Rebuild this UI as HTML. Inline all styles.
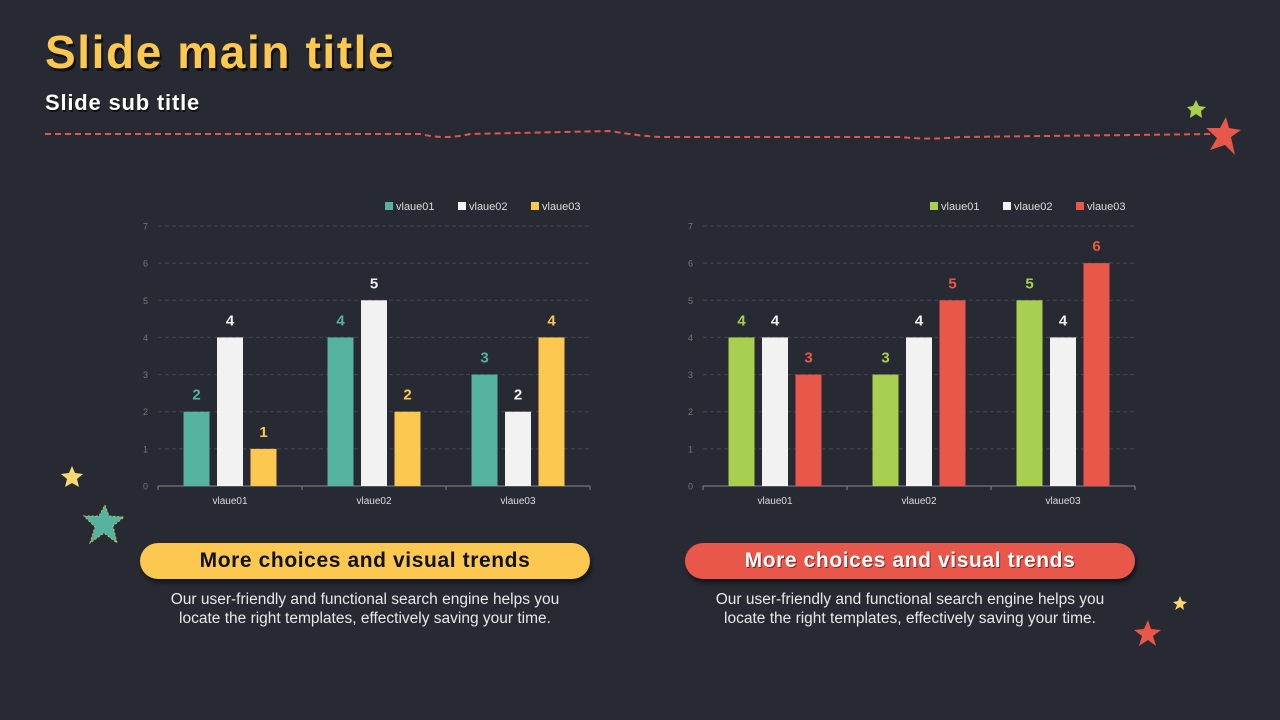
<!DOCTYPE html>
<html><head><meta charset="utf-8"><style>
body{margin:0;width:1280px;height:720px;background:#282a33;overflow:hidden;font-family:"Liberation Sans","DejaVu Sans",sans-serif;position:relative}
.t{position:absolute;left:45px;top:25px;font-size:46px;font-weight:bold;color:#fcc850;text-shadow:2px 3px 0 #111;letter-spacing:1.6px}
.s{position:absolute;left:45px;top:90px;font-size:22px;font-weight:bold;color:#fff;text-shadow:1px 2px 0 #111;letter-spacing:0.8px}
.pill{position:absolute;top:543px;width:450px;height:36px;border-radius:18px;font-size:21px;font-weight:bold;text-align:center;line-height:36px;box-shadow:2px 4px 4px rgba(0,0,0,.5);letter-spacing:0.6px}
.desc{position:absolute;top:590px;width:450px;text-align:center;color:#e8e8e8;font-size:15.5px;line-height:19px}
</style></head><body>
<div class="t">Slide main title</div>
<div class="s">Slide sub title</div>
<svg width="1280" height="720" style="position:absolute;left:0;top:0" id="svg">
<path d="M45 134 L420 134 Q445 140 470 134 L610 131 Q640 136 660 137 L900 137 Q930 140 960 137 L1215 134" stroke="#e0564a" stroke-width="2" stroke-dasharray="6 4" fill="none"/>
<polygon points="1226,117 1229,128 1241,130 1231,137 1235,155 1225,145 1210,150 1217,138 1206,128 1220,128" fill="#e8574a"/>
<polygon points="1196,100 1199,106 1206,107 1201,111 1202,118 1196,114 1190,118 1191,111 1187,107 1193,106" fill="#a8cf4f"/>
<polygon points="72,466 75,473 83,474 77,479 79,487 72,483 65,487 67,479 61,474 69,473" fill="#fbd870"/>
<polygon points="105,505 109,516 124,517 113,526 117,543 104,533 90,543 95,527 84,516 99,516" fill="#56b3a0" stroke="#c9c25a" stroke-dasharray="2 2"/>
<polygon points="1180,596 1182,601 1187,602 1183,605 1184,610 1180,607 1175,610 1177,605 1173,602 1178,601" fill="#fcd870"/>
<polygon points="1148,620 1151,629 1161,630 1153,636 1156,646 1148,640 1139,646 1142,636 1134,630 1144,629" fill="#e8574a"/>
</svg>
<div class="pill" style="left:140px;background:#fcc850;color:#111">More choices and visual trends</div>
<div class="pill" style="left:685px;background:#e8574a;color:#fff;text-shadow:1px 1px 0 #822">More choices and visual trends</div>
<div class="desc" style="left:140px">Our user-friendly and functional search engine helps you<br>locate the right templates, effectively saving your time.</div>
<div class="desc" style="left:685px">Our user-friendly and functional search engine helps you<br>locate the right templates, effectively saving your time.</div>
<script>
const categories=["vlaue01","vlaue02","vlaue03"];
const seriesNames=["vlaue01","vlaue02","vlaue03"];
const leftValues=[[2,4,3],[4,5,2],[1,2,4]];
const rightValues=[[4,3,5],[4,4,4],[3,5,6]];
const yTicks=[0,1,2,3,4,5,6,7];
const leftColors=["#56b3a0","#f2f2f2","#fcc850"];
const rightColors=["#a8cf4f","#f2f2f2","#e8574a"];
const NS="http://www.w3.org/2000/svg";
const svg=document.getElementById('svg');
function mk(tag,attrs,txt){const e=document.createElementNS(NS,tag);for(const k in attrs)e.setAttribute(k,attrs[k]);if(txt!==undefined)e.textContent=txt;svg.appendChild(e);return e;}
function chart(x0,vals,colors,pfx){
 const x1=x0+432,yb=486,yt=226;
 const y=v=>yb-(v/7)*(yb-yt);
 yTicks.forEach(t=>{
  if(t>0){const g=mk('line',{x1:x0,x2:x1,y1:y(t),y2:y(t),stroke:'#444752','stroke-dasharray':'4 3'});
  
  }
  const l=mk('text',{x:x0-10,y:y(t)+3.5,fill:'#777','font-size':9,'text-anchor':'end'},t);
  
  
 });
 const ax=mk('line',{x1:x0,x2:x1,y1:yb,y2:yb,stroke:'#888'});
 
 
 const gw=(x1-x0)/categories.length;
 for(let i=0;i<=categories.length;i++){const tk=mk('line',{x1:x0+i*gw,x2:x0+i*gw,y1:yb,y2:yb+4,stroke:'#888'});
  
  }
 categories.forEach((c,i)=>{
  const cx=x0+gw*(i+0.5);
  const cl=mk('text',{x:cx,y:yb+18,fill:'#ddd','font-size':10,'text-anchor':'middle'},c);
  
  
  vals.forEach((sv,s)=>{
   const bx=cx-13+(s-1)*33.5,v=sv[i];
   const r=mk('rect',{x:bx,y:y(v),width:26,height:yb-y(v),fill:colors[s]});
   
   
   const tl=mk('text',{x:bx+13,y:y(v)-12,fill:colors[s],'font-size':15,'font-weight':'bold','text-anchor':'middle'},v);
   
   
  });
 });
 seriesNames.forEach((n,s)=>{
  const lx=x0+227+s*73;
  const sq=mk('rect',{x:lx,y:202,width:8,height:8,fill:colors[s]});
  
  
  const lt=mk('text',{x:lx+11,y:210,fill:'#ddd','font-size':11},n);
  
  
 });
}
chart(158,leftValues,leftColors,'left-chart');
chart(703,rightValues,rightColors,'right-chart');
</script>
</body></html>
